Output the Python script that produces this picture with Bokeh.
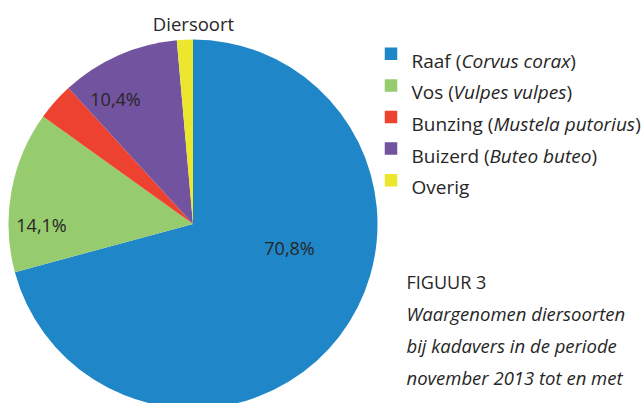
import math, glob, os
import numpy as np
from bokeh.plotting import figure
from bokeh.models import ColumnDataSource, Range1d
from bokeh.core.properties import value
from bokeh.embed import file_html
from bokeh.resources import INLINE

# ---------------- data ----------------
title = "Diersoort"
species = ["Raaf", "Vos", "Bunzing", "Buizerd", "Overig"]
latin = ["Corvus corax", "Vulpes vulpes", "Mustela putorius", "Buteo buteo", ""]
shares = [70.8, 14.1, 3.3, 10.4, 1.4]
pct_labels = ["70,8%", "14,1%", "", "10,4%", ""]
caption_head = "FIGUUR 3"
caption_lines = ["Waargenomen diersoorten", "bij kadavers in de periode",
                 "november 2013 tot en met", "mei 2014 (n=1.506)"]

# ---------------- style / layout ----------------
colors = ["#1F86C7", "#97CC6E", "#EE4230", "#72539F", "#ECE62F"]
W, H = 644, 403
OX, OY = 0, 8          # page offset of the figure
FONT = "Open Sans"
TXT = "#262626"

def fy(img_y):  # image pixel y -> data y
    return H - (img_y - OY)

def fx(img_x):
    return img_x - OX

# font measurement for mixed regular / italic legend lines
def find_font(patterns):
    dirs = ["/usr/share/fonts", "/usr/local/share/fonts",
            os.path.expanduser("~/.fonts"), os.path.expanduser("~/.local/share/fonts")]
    for pat in patterns:
        for d in dirs:
            hits = sorted(glob.glob(os.path.join(d, "**", pat), recursive=True))
            if hits:
                return hits[0]
    return None

try:
    from PIL import ImageFont
    reg_path = find_font(["OpenSans-Regular.ttf", "OpenSans[[]*.ttf", "OpenSans*.ttf"])
    it_path = find_font(["OpenSans-Italic.ttf", "OpenSans-Italic[[]*.ttf", "OpenSans*Italic*.ttf"])
except Exception:
    ImageFont = None
    reg_path = it_path = None

_cache = {}
def text_w(s, size, italic=False):
    path = it_path if italic else reg_path
    if ImageFont is not None and path:
        key = (path, size)
        if key not in _cache:
            try:
                _cache[key] = ImageFont.truetype(path, size)
            except Exception:
                _cache[key] = None
        f = _cache[key]
        if f is not None:
            return f.getlength(s)
    return len(s) * 0.53 * size

p = figure(width=W, height=H, output_backend="svg", toolbar_location=None,
           x_range=Range1d(0, W), y_range=Range1d(0, H), min_border=0,
           match_aspect=False)
p.axis.visible = False
p.grid.visible = False
p.outline_line_color = None
p.background_fill_color = "white"
p.border_fill_color = "white"

# ---------------- pie ----------------
cx, cy, R = fx(192.5), fy(231.5), 184.5
fr = np.array(shares) / sum(shares)
cum = np.concatenate([[0], np.cumsum(fr)])
start = [math.pi / 2 - 2 * math.pi * cum[i] for i in range(len(fr))]
end = [math.pi / 2 - 2 * math.pi * cum[i + 1] for i in range(len(fr))]
src = ColumnDataSource(dict(x=[cx] * len(fr), y=[cy] * len(fr), start=start, end=end,
                            color=colors))
p.wedge(x="x", y="y", radius=R, start_angle="start", end_angle="end",
        direction="clock", fill_color="color", line_color=None, source=src)

# percentage labels (positions in image pixels of the reference layout)
label_pos = {0: (289, 255), 1: (41, 232), 3: (115, 106)}
lx, ly, lt = [], [], []
for i, (px, py) in label_pos.items():
    lx.append(fx(px)); ly.append(fy(py)); lt.append(pct_labels[i])
p.text(x=lx, y=ly, text=lt, text_font=value(FONT), text_font_size="18px",
       text_color=TXT, text_align="center", text_baseline="alphabetic")

# title
p.text(x=[fx(193)], y=[fy(31)], text=[title], text_font=value(FONT),
       text_font_size="18.5px", text_color=TXT, text_align="center",
       text_baseline="alphabetic")

# ---------------- legend ----------------
LS = 19
sq_x, sq_size = fx(390.5), 12.5
txt_x = fx(411)
base0, step = 68.3, 31.6
reg_x, reg_y, reg_t = [], [], []
it_x, it_y, it_t = [], [], []
sq_y = []
for i, name in enumerate(species):
    b = base0 + i * step
    sq_y.append(fy(b - 7))
    if latin[i]:
        pre = name + " ("
        reg_x.append(txt_x); reg_y.append(fy(b)); reg_t.append(pre)
        x2 = txt_x + text_w(pre, LS)
        it_x.append(x2); it_y.append(fy(b)); it_t.append(latin[i])
        x3 = x2 + text_w(latin[i], LS, italic=True) + 0.5
        reg_x.append(x3); reg_y.append(fy(b)); reg_t.append(")")
    else:
        reg_x.append(txt_x); reg_y.append(fy(b)); reg_t.append(name)
p.rect(x=[sq_x] * len(species), y=sq_y, width=sq_size, height=sq_size,
       fill_color=colors, line_color=None)
p.text(x=reg_x, y=reg_y, text=reg_t, text_font=value(FONT), text_font_size=f"{LS}px",
       text_color=TXT, text_align="left", text_baseline="alphabetic")
p.text(x=it_x, y=it_y, text=it_t, text_font=value(FONT), text_font_size=f"{LS}px",
       text_font_style="italic", text_color=TXT, text_align="left",
       text_baseline="alphabetic")

# ---------------- caption ----------------
cap_x = fx(406)
cap_base0, cap_step = 289.3, 31.8
p.text(x=[cap_x], y=[fy(cap_base0)], text=[caption_head], text_font=value(FONT),
       text_font_size="18px", text_color=TXT, text_align="left",
       text_baseline="alphabetic")
p.text(x=[cap_x] * len(caption_lines),
       y=[fy(cap_base0 + (k + 1) * cap_step) for k in range(len(caption_lines))],
       text=caption_lines, text_font=value(FONT), text_font_size="18.5px",
       text_font_style="italic", text_color=TXT, text_align="left",
       text_baseline="alphabetic")

open("out.html", "w").write(file_html(p, INLINE))
